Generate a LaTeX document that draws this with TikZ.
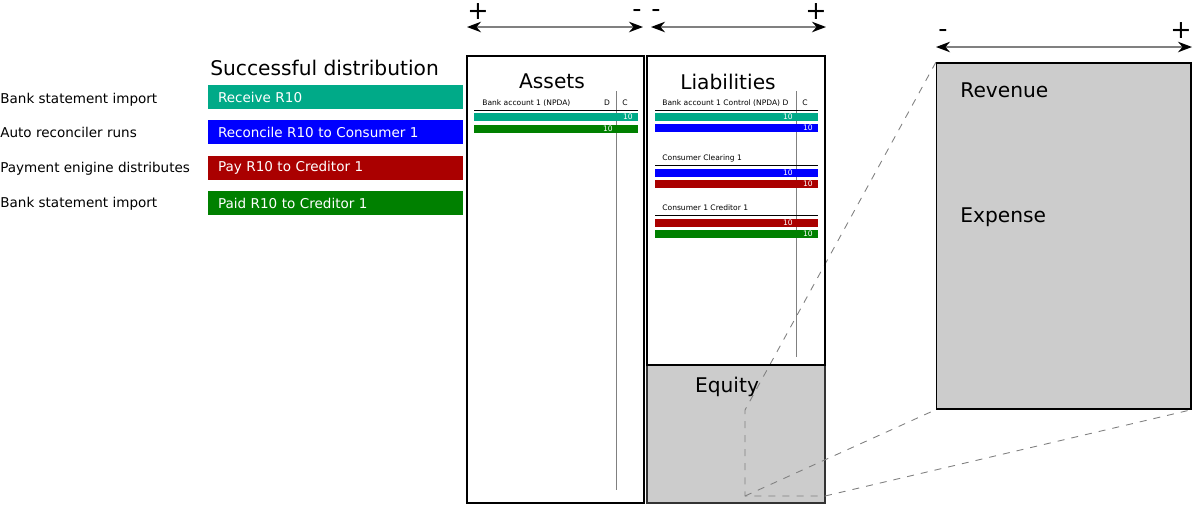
\documentclass[tikz,border=0pt]{standalone}
\usepackage{fontspec}
\setmainfont{DejaVu Sans}
\usepackage{tikz}
\usetikzlibrary{arrows.meta,positioning}
\definecolor{recvcol}{HTML}{00AA88}
\definecolor{reconcol}{HTML}{0000FF}
\definecolor{paycol}{HTML}{AA0000}
\definecolor{paidcol}{HTML}{008000}
\definecolor{eqgray}{HTML}{CCCCCC}

\begin{document}
\begin{tikzpicture}[
    x=0.02cm, y=-0.02cm,
    title/.style={font=\fontsize{11.5}{13}\selectfont, inner sep=0pt},
    lbl/.style={font=\fontsize{7.7}{9}\selectfont, anchor=west, inner sep=0pt},
    acctfont/.style={font=\fontsize{4.3}{5}\selectfont, inner sep=0pt},
    event/.style={
        text width=4.7cm,
        align=left,
        inner xsep=0.2cm,
        inner ysep=0pt,
        minimum height=0.48cm,
        text=white,
        font=\fontsize{7.7}{9}\selectfont
    },
    acct/.style={draw=black, line width=1.1pt, inner sep=0pt},
    entry/.style={minimum height=0.16cm, inner sep=0pt},
    amt/.style={acctfont, text=white, anchor=east},
    tline/.style={draw=black, line width=0.4pt},
    dcsep/.style={draw=gray, line width=0.5pt},
    sign/.style={font=\fontsize{14.5}{15}\selectfont, inner sep=0pt, anchor=base},
    signarrow/.style={
        {Stealth[black,length=8pt,width=6pt]}-{Stealth[black,length=8pt,width=6pt]},
        draw=gray, line width=0.8pt
    },
    proj/.style={draw=gray, line width=0.5pt, dash pattern=on 4pt off 4pt}
]
\useasboundingbox (0,0) rectangle (1194,505);

% events
\node[title, anchor=west] (headline) at (210,68) {Successful distribution};

\node[lbl] (src1) at (0,99.5) {Bank statement import};
\node[lbl] (src2) at (0,132.5) {Auto reconciler runs};
\node[lbl] (src3) at (0,168.5) {Payment enigine distributes};
\node[lbl] (src4) at (0,203.5) {Bank statement import};

\node[event, fill=recvcol] (ev1) at (335.5,97) {Receive R10};
\node[event, fill=reconcol] (ev2) at (335.5,132) {Reconcile R10 to Consumer 1};
\node[event, fill=paycol] (ev3) at (335.5,168) {Pay R10 to Creditor 1};
\node[event, fill=paidcol] (ev4) at (335.5,203) {Paid R10 to Creditor 1};

% boxes
\node[acct, fill=eqgray, draw=black!80, line width=0.9pt,
      minimum width=3.56cm, minimum height=2.76cm] (equity) at (736,434) {};
\node[acct, fill=eqgray, line width=0.8pt,
      minimum width=5.09cm, minimum height=6.92cm] (rev) at (1063.75,236) {};

% projection
\coordinate (eqtl) at (745,410);
\coordinate (eqbl) at (745,496);
\coordinate (eqbr) at (825,496);
\draw[proj] (rev.north west) -- (eqtl) -- (eqbl) -- (eqbr);
\draw[proj] (eqbl) -- (rev.south west);
\draw[proj] (eqbr) -- (rev.south east);

\node[acct, minimum width=3.54cm, minimum height=8.94cm] (assets) at (555.5,279.5) {};
\node[acct, minimum width=3.56cm, minimum height=6.18cm] (liab) at (736,210.5) {};

\node[title] (assetsT) at (552,81.5) {Assets};
\node[title] (liabT) at (728,81.5) {Liabilities};
\node[title] (equityT) at (727,386.5) {Equity};
\node[title, anchor=west] (revT) at (960,90.5) {Revenue};
\node[title, anchor=west] (expT) at (960,217.5) {Expense};

% signs
\coordinate (aL) at (467,27);
\coordinate (aR) at (643,27);
\coordinate (lL) at (651,27);
\coordinate (lR) at (826,27);
\coordinate (rL) at (936,47);
\coordinate (rR) at (1192,47);
\draw[signarrow] (aL) -- (aR);
\draw[signarrow] (lL) -- (lR);
\draw[signarrow] (rL) -- (rR);
\node[sign] (aPlus) at (478,19) {+};
\node[sign] (aMinus) at (637,17.5) {-};
\node[sign] (lMinus) at (656,17.5) {-};
\node[sign] (lPlus) at (816,19) {+};
\node[sign] (rMinus) at (943,37) {-};
\node[sign] (rPlus) at (1181,38) {+};

% asset T-account
\coordinate (asTop) at (616,91);
\coordinate (asBot) at (616,490);
\draw[dcsep] (asTop) -- (asBot);
\node[acctfont, anchor=west] (bank1) at (482,103) {Bank account 1 (NPDA)};
\node[acctfont] (bank1D) at (607,103) {D};
\node[acctfont] (bank1C) at (625,103) {C};
\coordinate (bank1l) at (474,110);
\coordinate (bank1r) at (638,110);
\draw[tline] (bank1l) -- (bank1r);
\node[entry, fill=recvcol, minimum width=3.28cm] (a1) at (556,117) {};
\node[amt] at (633,117) {10};
\node[entry, fill=paidcol, minimum width=3.28cm] (a2) at (556,129) {};
\node[amt] at (613,129) {10};

% liability T-accounts
\coordinate (lbTop) at (796,91);
\coordinate (lbBot) at (796,357);
\draw[dcsep] (lbTop) -- (lbBot);

\node[acctfont, anchor=west] (ctrl) at (662,103) {Bank account 1 Control (NPDA) D};
\node[acctfont] (ctrlC) at (805,103) {C};
\coordinate (ctrll) at (655,110);
\coordinate (ctrlr) at (818,110);
\draw[tline] (ctrll) -- (ctrlr);
\node[entry, fill=recvcol, minimum width=3.26cm] (l1) at (736.5,117) {};
\node[amt] at (793,117) {10};
\node[entry, fill=reconcol, minimum width=3.26cm] (l2) at (736.5,128) {};
\node[amt] at (813,128) {10};

\node[acctfont, anchor=west] (clear) at (662,158) {Consumer Clearing 1};
\coordinate (clearl) at (655,165);
\coordinate (clearr) at (818,165);
\draw[tline] (clearl) -- (clearr);
\node[entry, fill=reconcol, minimum width=3.26cm] (l3) at (736.5,172.5) {};
\node[amt] at (793,172.5) {10};
\node[entry, fill=paycol, minimum width=3.26cm] (l4) at (736.5,184) {};
\node[amt] at (813,184) {10};

\node[acctfont, anchor=west] (cred) at (662,208) {Consumer 1 Creditor 1};
\coordinate (credl) at (655,215);
\coordinate (credr) at (818,215);
\draw[tline] (credl) -- (credr);
\node[entry, fill=paycol, minimum width=3.26cm] (l5) at (736.5,222.5) {};
\node[amt] at (793,222.5) {10};
\node[entry, fill=paidcol, minimum width=3.26cm] (l6) at (736.5,234) {};
\node[amt] at (813,234) {10};

\end{tikzpicture}
\end{document}
